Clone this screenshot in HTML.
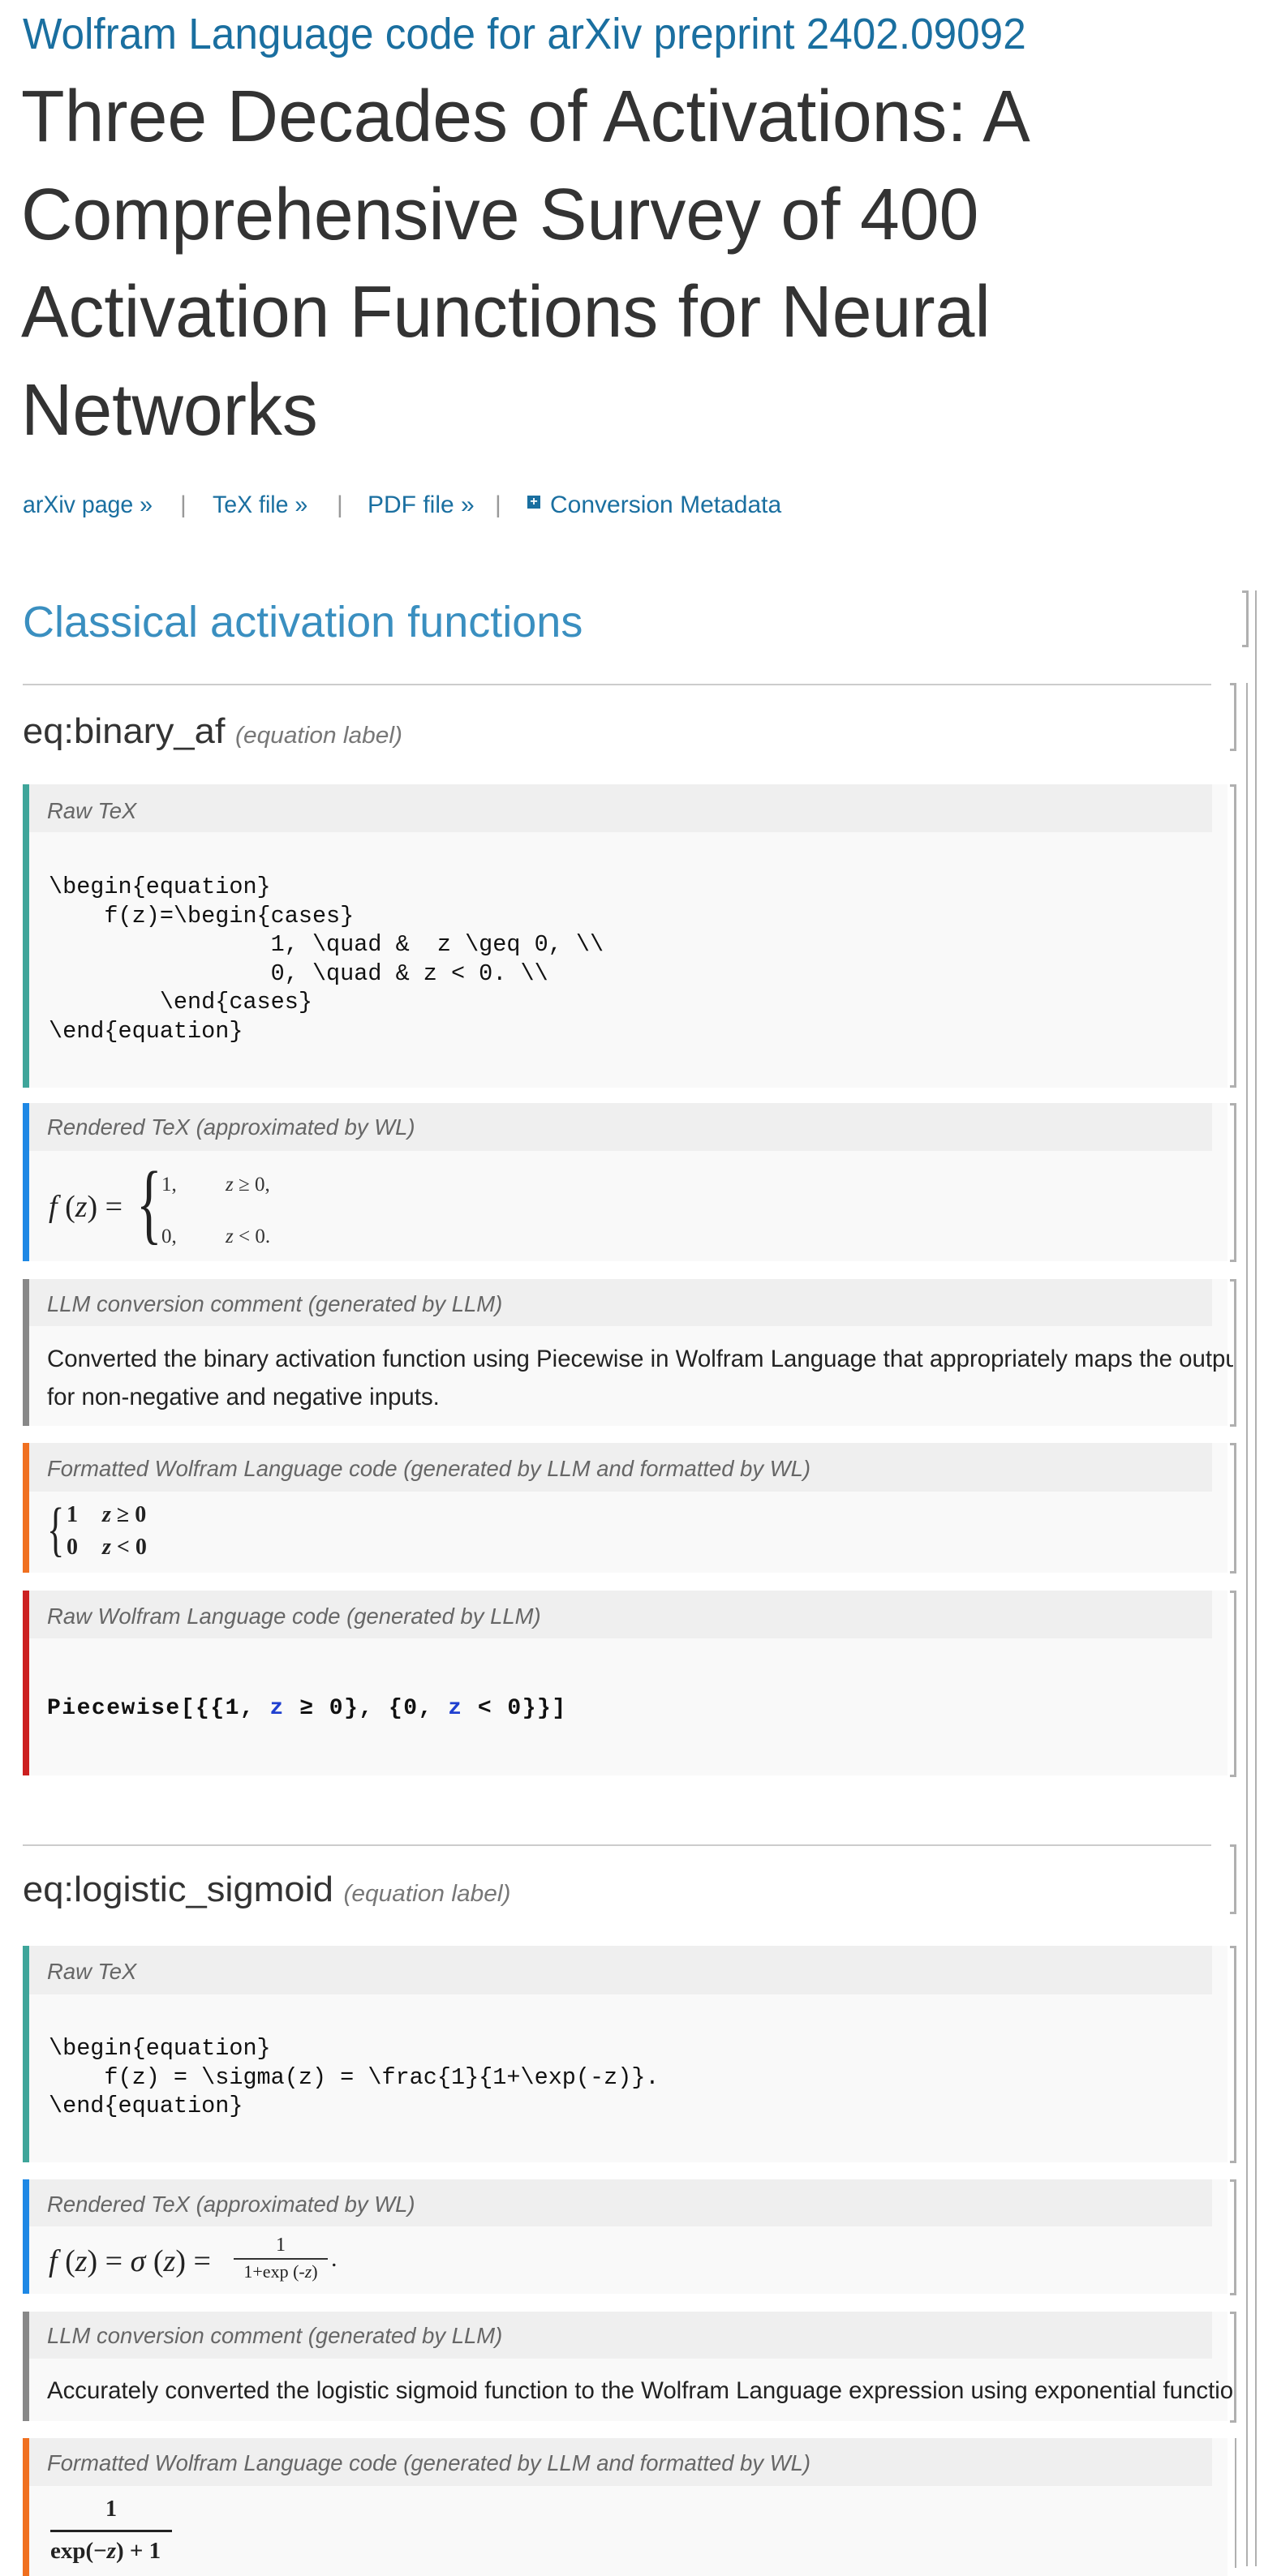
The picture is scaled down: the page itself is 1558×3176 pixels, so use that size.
<!DOCTYPE html>
<html><head><meta charset="utf-8"><style>
body{margin:0;width:1558px;height:3164px;background:#fff;position:relative;overflow:hidden;font-family:"Liberation Sans",sans-serif}
.a{position:absolute;white-space:pre}
.sx{transform-origin:0 50%}
.hdr{position:absolute;left:36px;width:1458px;background:#efefef}
.body{position:absolute;left:36px;width:1477px;background:#f9f9f9}
.bar{position:absolute;left:28px;width:8px}
.lab{position:absolute;left:58px;font-style:italic;color:#666;font-size:28px;white-space:pre;transform:scaleX(.98);transform-origin:0 50%}
.mono{font-family:"Liberation Mono",monospace;font-size:28.5px;color:#111;line-height:35.6px}
.br{position:absolute;border:3px solid #b0b0b0;border-left:none;width:5px}
.vl{position:absolute;width:2px;background:#b0b0b0}
.hr{position:absolute;left:28px;width:1465px;height:2px;background:#ccc}
.txt{font-size:30px;color:#222;transform:scaleX(.98);transform-origin:0 50%}
.ser{font-family:"Liberation Serif",serif}
</style></head><body>

<div class="a sx" style="left:28px;top:10px;font-size:54px;color:#1a6fa0;line-height:64px;transform:scaleX(.95)">Wolfram Language code for arXiv preprint 2402.09092</div>

<div class="a sx" style="left:26px;top:84px;font-size:90px;color:#333;line-height:120.5px;transform:scaleX(.975)">Three Decades of Activations: A
Comprehensive Survey of 400
Activation Functions for Neural
Networks</div>

<div class="a sx" style="left:28px;top:604px;font-size:30px;color:#1a6fa0;line-height:38px;transform:scaleX(.95)">arXiv page »</div>
<div class="a" style="left:222px;top:604px;font-size:30px;color:#999;line-height:38px">|</div>
<div class="a sx" style="left:262px;top:604px;font-size:30px;color:#1a6fa0;line-height:38px;transform:scaleX(.95)">TeX file »</div>
<div class="a" style="left:415px;top:604px;font-size:30px;color:#999;line-height:38px">|</div>
<div class="a" style="left:453px;top:604px;font-size:30px;color:#1a6fa0;line-height:38px">PDF file »</div>
<div class="a" style="left:610px;top:604px;font-size:30px;color:#999;line-height:38px">|</div>
<div class="a" style="left:650px;top:611px;width:16px;height:16px;background:#1a6fa0;color:#fff;font-size:16px;line-height:16px;text-align:center;font-weight:bold">+</div>
<div class="a" style="left:678px;top:604px;font-size:30px;color:#1a6fa0;line-height:38px">Conversion Metadata</div>

<div class="a" style="left:28px;top:734px;font-size:54px;color:#3a8fc0;line-height:66px">Classical activation functions</div>

<div class="vl" style="left:1547px;top:728px;height:2436px"></div>
<div class="br" style="left:1531px;top:728px;height:64px"></div>
<div class="vl" style="left:1536px;top:842px;height:2322px"></div>

<div class="hr" style="top:843px"></div>
<div class="a sx" style="left:28px;top:874px;font-size:44px;color:#333;line-height:56px;transform:scaleX(1.03)">eq:binary_af <span style="font-size:29px;font-style:italic;color:#777">(equation label)</span></div>
<div class="br" style="left:1516px;top:842px;height:78px"></div>

<div class="bar" style="top:967px;height:374px;background:#3fa59a"></div>
<div class="body" style="top:967px;height:374px"></div>
<div class="hdr" style="top:967px;height:59px"></div>
<div class="lab" style="top:982px;line-height:36px">Raw TeX</div>
<div class="a mono" style="left:60px;top:1076px">\begin{equation}
    f(z)=\begin{cases}
                1, \quad &amp;  z \geq 0, \\
                0, \quad &amp; z &lt; 0. \\
        \end{cases}
\end{equation}</div>
<div class="br" style="left:1516px;top:967px;height:368px"></div>

<div class="bar" style="top:1360px;height:195px;background:#1e88e5"></div>
<div class="body" style="top:1360px;height:195px"></div>
<div class="hdr" style="top:1360px;height:59px"></div>
<div class="lab" style="top:1372px;line-height:36px">Rendered TeX (approximated by WL)</div>
<div class="a ser" style="left:60px;top:1466px;font-size:38px;color:#222;line-height:44px"><i>f</i> (<i>z</i>) =</div>
<div class="a ser" style="left:168px;top:1428px;font-size:110px;color:#222;line-height:110px;transform:scaleX(.6);transform-origin:0 0">{</div>
<div class="a ser" style="left:199px;top:1446px;font-size:25px;color:#333;line-height:30px">1,</div>
<div class="a ser" style="left:278px;top:1446px;font-size:25px;color:#333;line-height:30px"><i>z</i> ≥ 0,</div>
<div class="a ser" style="left:199px;top:1510px;font-size:25px;color:#333;line-height:30px">0,</div>
<div class="a ser" style="left:278px;top:1510px;font-size:25px;color:#333;line-height:30px"><i>z</i> &lt; 0.</div>
<div class="br" style="left:1516px;top:1360px;height:190px"></div>

<div class="bar" style="top:1577px;height:181px;background:#888"></div>
<div class="body" style="top:1577px;height:181px"></div>
<div class="hdr" style="top:1577px;height:58px"></div>
<div class="lab" style="top:1590px;line-height:36px">LLM conversion comment (generated by LLM)</div>
<div class="a" style="left:58px;top:1652px;width:1462px;overflow:hidden;height:96px"><div class="a txt" style="left:0;top:0;line-height:47px">Converted the binary activation function using Piecewise in Wolfram Language that appropriately maps the outputs
for non-negative and negative inputs.</div></div>
<div class="br" style="left:1516px;top:1577px;height:176px"></div>

<div class="bar" style="top:1779px;height:160px;background:#f07020"></div>
<div class="body" style="top:1779px;height:160px"></div>
<div class="hdr" style="top:1779px;height:60px"></div>
<div class="lab" style="top:1793px;line-height:36px">Formatted Wolfram Language code (generated by LLM and formatted by WL)</div>
<div class="a ser" style="left:58px;top:1846px;font-size:74px;color:#222;line-height:80px;transform:scaleX(.6);transform-origin:0 0">{</div>
<div class="a ser" style="left:82px;top:1852px;font-size:28px;font-weight:bold;color:#222;line-height:32px">1</div>
<div class="a ser" style="left:126px;top:1852px;font-size:28px;font-weight:bold;color:#222;line-height:32px"><i>z</i> ≥ 0</div>
<div class="a ser" style="left:82px;top:1892px;font-size:28px;font-weight:bold;color:#222;line-height:32px">0</div>
<div class="a ser" style="left:126px;top:1892px;font-size:28px;font-weight:bold;color:#222;line-height:32px"><i>z</i> &lt; 0</div>
<div class="br" style="left:1516px;top:1779px;height:155px"></div>

<div class="bar" style="top:1961px;height:228px;background:#cc2020"></div>
<div class="body" style="top:1961px;height:228px"></div>
<div class="hdr" style="top:1961px;height:59px"></div>
<div class="lab" style="top:1975px;line-height:36px">Raw Wolfram Language code (generated by LLM)</div>
<div class="a" style="left:58px;top:2088px;font-family:'Liberation Mono',monospace;font-size:28px;letter-spacing:1.5px;font-weight:bold;color:#111;line-height:38px">Piecewise[{{1, <span style="color:#2040d0">z</span> ≥ 0}, {0, <span style="color:#2040d0">z</span> &lt; 0}}]</div>
<div class="br" style="left:1516px;top:1961px;height:224px"></div>

<div class="hr" style="top:2274px"></div>
<div class="a sx" style="left:28px;top:2302px;font-size:44px;color:#333;line-height:56px;transform:scaleX(1.03)">eq:logistic_sigmoid <span style="font-size:29px;font-style:italic;color:#777">(equation label)</span></div>
<div class="br" style="left:1516px;top:2274px;height:80px"></div>

<div class="bar" style="top:2399px;height:267px;background:#3fa59a"></div>
<div class="body" style="top:2399px;height:267px"></div>
<div class="hdr" style="top:2399px;height:60px"></div>
<div class="lab" style="top:2413px;line-height:36px">Raw TeX</div>
<div class="a mono" style="left:60px;top:2508px">\begin{equation}
    f(z) = \sigma(z) = \frac{1}{1+\exp(-z)}.
\end{equation}</div>
<div class="br" style="left:1516px;top:2399px;height:262px"></div>

<div class="bar" style="top:2687px;height:141px;background:#1e88e5"></div>
<div class="body" style="top:2687px;height:141px"></div>
<div class="hdr" style="top:2687px;height:58px"></div>
<div class="lab" style="top:2700px;line-height:36px">Rendered TeX (approximated by WL)</div>
<div class="a ser" style="left:60px;top:2766px;font-size:38px;color:#222;line-height:44px"><i>f</i> (<i>z</i>) = <i>σ</i> (<i>z</i>) =</div>
<div class="a ser" style="left:288px;top:2755px;width:116px;text-align:center;font-size:24px;color:#222;line-height:26px">1</div>
<div class="a" style="left:288px;top:2784px;width:116px;height:2px;background:#333"></div>
<div class="a ser" style="left:288px;top:2789px;width:116px;text-align:center;font-size:22px;color:#222;line-height:24px">1+exp (-<i>z</i>)</div>
<div class="a ser" style="left:408px;top:2770px;font-size:30px;color:#222;line-height:30px">.</div>
<div class="br" style="left:1516px;top:2687px;height:137px"></div>

<div class="bar" style="top:2850px;height:135px;background:#888"></div>
<div class="body" style="top:2850px;height:135px"></div>
<div class="hdr" style="top:2850px;height:58px"></div>
<div class="lab" style="top:2862px;line-height:36px">LLM conversion comment (generated by LLM)</div>
<div class="a" style="left:58px;top:2924px;width:1462px;overflow:hidden;height:48px"><div class="a txt" style="left:0;top:0;line-height:48px">Accurately converted the logistic sigmoid function to the Wolfram Language expression using exponential function.</div></div>
<div class="br" style="left:1516px;top:2850px;height:131px"></div>

<div class="bar" style="top:3006px;height:170px;background:#f07020"></div>
<div class="body" style="top:3006px;height:170px"></div>
<div class="hdr" style="top:3006px;height:59px"></div>
<div class="lab" style="top:3019px;line-height:36px">Formatted Wolfram Language code (generated by LLM and formatted by WL)</div>
<div class="a ser" style="left:62px;top:3078px;width:150px;text-align:center;font-size:28px;font-weight:bold;color:#222;line-height:32px">1</div>
<div class="a" style="left:62px;top:3119px;width:150px;height:3px;background:#222"></div>
<div class="a ser" style="left:62px;top:3129px;font-size:29px;font-weight:bold;color:#222;line-height:32px">exp(−<i>z</i>) + 1</div>
<div class="vl" style="left:1522px;top:3006px;height:160px"></div>

</body></html>
